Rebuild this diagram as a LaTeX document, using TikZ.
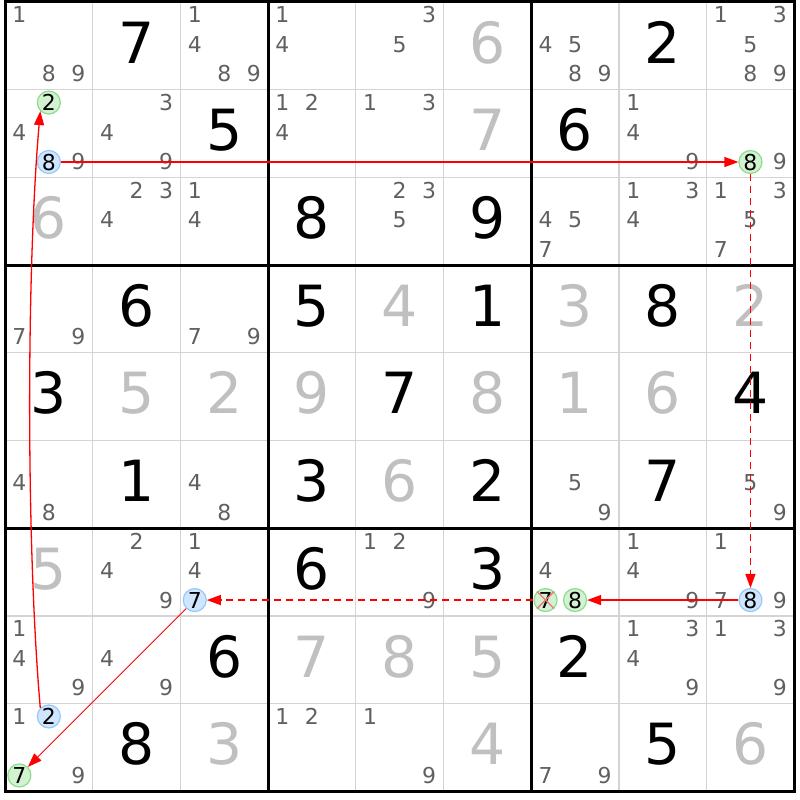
\documentclass[tikz,border=0pt]{standalone}
\usepackage{fontspec}
\setmainfont{DejaVu Sans}
\usetikzlibrary{arrows.meta}
\definecolor{candgray}{RGB}{96,96,96}
\definecolor{solvedgray}{RGB}{192,192,192}
\definecolor{thingrid}{RGB}{212,212,212}
\definecolor{greenfill}{RGB}{210,242,210}
\definecolor{greenline}{RGB}{140,220,140}
\definecolor{bluefill}{RGB}{208,230,255}
\definecolor{blueline}{RGB}{150,200,250}
\definecolor{xred}{RGB}{240,120,120}
\definecolor{linkred}{RGB}{255,0,0}
\begin{document}
\begin{tikzpicture}[x=1bp,y=-1bp,
  cand/.style={font=\fontsize{22}{22}\selectfont, text=candgray, inner sep=0pt, text height=16bp, text depth=0pt},
  big/.style={font=\fontsize{57}{57}\selectfont, inner sep=0pt, text height=41.5bp, text depth=0pt},
  given/.style={big, text=black},
  solved/.style={big, text=solvedgray},
  circg/.style={cand, text=black, circle, draw=greenline, fill=greenfill, line width=1.2bp, minimum size=23bp},
  circb/.style={cand, text=black, circle, draw=blueline, fill=bluefill, line width=1.2bp, minimum size=23bp},
  link/.style={draw=linkred, line width=1.3bp, -{Triangle[length=14bp,width=10bp,fill=linkred]}},
  weak/.style={link, dash pattern=on 7bp off 5bp, line width=1.4bp},
  thinlink/.style={link, line width=0.9bp},
  xcross/.style={xred, line width=1.4bp},
  thinline/.style={thingrid, line width=1.2bp},
  thickline/.style={black, line width=3bp}
]
\useasboundingbox (0,0) rectangle (800,800);
\fill[white] (0,0) rectangle (800,800);
% grid
\foreach \i in {1,2,4,5,7,8} {
  \draw[thinline] ({5+\i*87.7},2) -- ({5+\i*87.7},791.3);
  \draw[thinline] (5,{2+\i*87.7}) -- (794.3,{2+\i*87.7});
}
\foreach \i in {3,6} {
  \draw[thickline] ({5+\i*87.7},2) -- ({5+\i*87.7},791.3);
  \draw[thickline] (5,{2+\i*87.7}) -- (794.3,{2+\i*87.7});
}
\draw[thickline] (5,2) rectangle (794.3,791.3);
% given digits
\foreach \r/\c/\d in {1/2/7, 1/8/2, 2/3/5, 2/7/6, 3/4/8, 3/6/9, 4/2/6, 4/4/5, 4/6/1, 4/8/8, 5/1/3, 5/5/7, 5/9/4, 6/2/1, 6/4/3, 6/6/2, 6/8/7, 7/4/6, 7/6/3, 8/3/6, 8/7/2, 9/2/8, 9/8/5}
  \node[given] (v\r\c) at ({5+(\c-0.5)*87.7},{2+(\r-0.5)*87.7-3.5}) {\d};
% solved digits
\foreach \r/\c/\d in {1/6/6, 2/6/7, 3/1/6, 4/5/4, 4/7/3, 4/9/2, 5/2/5, 5/3/2, 5/4/9, 5/6/8, 5/7/1, 5/8/6, 6/5/6, 7/1/5, 8/4/7, 8/5/8, 8/6/5, 9/3/3, 9/6/4, 9/9/6}
  \node[solved] (s\r\c) at ({5+(\c-0.5)*87.7},{2+(\r-0.5)*87.7-3.5}) {\d};
% candidates
\foreach \r/\c/\L in {
  1/1/{1,8,9}, 1/3/{1,4,8,9}, 1/4/{1,4}, 1/5/{3,5}, 1/7/{4,5,8,9}, 1/9/{1,3,5,8,9},
  2/1/{4,9}, 2/2/{3,4,9}, 2/4/{1,2,4}, 2/5/{1,3}, 2/8/{1,4,9}, 2/9/{9},
  3/2/{2,3,4}, 3/3/{1,4}, 3/5/{2,3,5}, 3/7/{4,5,7}, 3/8/{1,3,4}, 3/9/{1,3,5,7},
  4/1/{7,9}, 4/3/{7,9},
  6/1/{4,8}, 6/3/{4,8}, 6/7/{5,9}, 6/9/{5,9},
  7/2/{2,4,9}, 7/3/{1,4}, 7/5/{1,2,9}, 7/7/{4}, 7/8/{1,4,9}, 7/9/{1,7,9},
  8/1/{1,4,9}, 8/2/{4,9}, 8/8/{1,3,4,9}, 8/9/{1,3,9},
  9/1/{1,9}, 9/4/{1,2}, 9/5/{1,9}, 9/7/{7,9}} {
  \foreach \d in \L {
    \pgfmathsetmacro\px{5+(\c-0.5)*87.7+(mod(\d-1,3)-1)*29.5}
    \pgfmathsetmacro\py{2+(\r-0.5)*87.7+(floor((\d-1)/3)-1)*29.5-1.5}
    \node[cand] (k\r\c\d) at (\px,\py) {\d};
  }
}
% highlighted candidates
\node[circg] (g21) at (48.85,102.55) {2};
\node[circb] (b21) at (48.85,162) {8};
\node[circg] (g29) at (750.45,162) {8};
\node[circb] (b73) at (194.75,600.05) {7};
\node[circg] (x77) at (545.55,600.05) {7};
\node[circg] (g77) at (575.05,600.05) {8};
\node[circb] (b79) at (750.45,600.05) {8};
\node[circb] (b91) at (48.85,716.45) {2};
\node[circg] (g91) at (19.35,775.45) {7};
% links
\draw[link] (b91.135) .. controls +(-14,-160) and +(-14,160) .. (g21.225);
\draw[link] (b21) -- (g29);
\draw[weak] (g29) -- (b79);
\draw[link] (b79) -- (g77);
\draw[weak] (x77) -- (b73);
\draw[thinlink] (b73) -- (g91);
% elimination cross
\draw[xcross] (x77.45) -- (x77.225) (x77.135) -- (x77.315);
\end{tikzpicture}
\end{document}
